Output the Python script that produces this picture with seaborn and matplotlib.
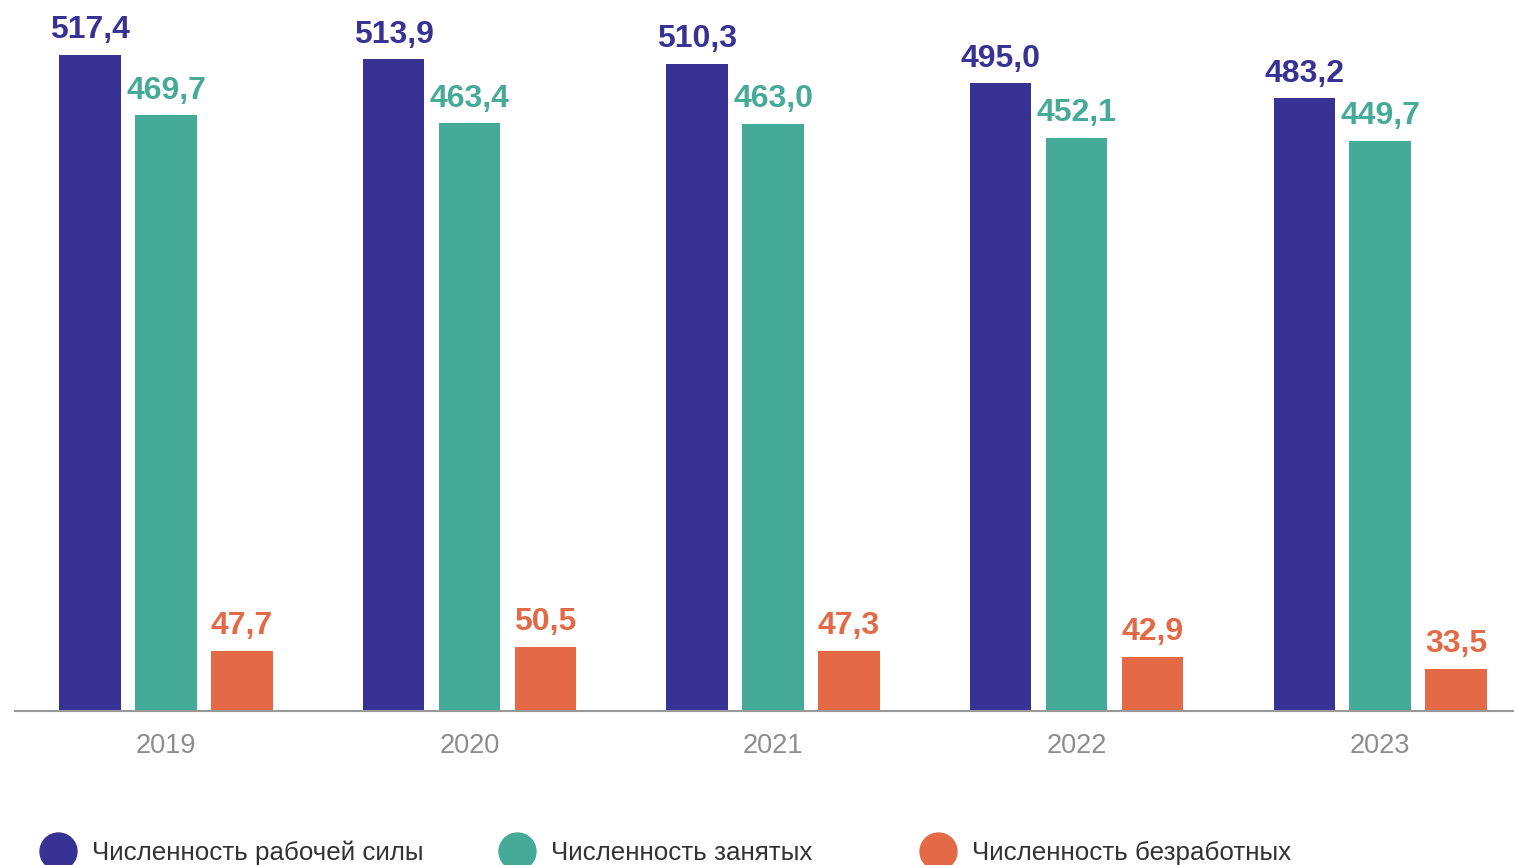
import pandas as pd
import matplotlib.pyplot as plt
import seaborn as sns
from matplotlib.lines import Line2D

# values (thousand people)
years = ["2019", "2020", "2021", "2022", "2023"]
labour_force = [517.4, 513.9, 510.3, 495.0, 483.2]
employed = [469.7, 463.4, 463.0, 452.1, 449.7]
unemployed = [47.7, 50.5, 47.3, 42.9, 33.5]
series_names = ["Численность рабочей силы", "Численность занятых", "Численность безработных"]
colors = ["#373294", "#46AA98", "#E36947"]

df = pd.DataFrame({
    "year": years * 3,
    "value": labour_force + employed + unemployed,
    "series": [s for s in series_names for _ in years],
})

sns.set_style("white")
plt.rcParams["font.family"] = ["Liberation Sans", "DejaVu Sans"]

fig = plt.figure(figsize=(15.14, 8.65), dpi=100)
ax = fig.add_axes([15 / 1514, 1 - 711 / 865, 1 - 15 / 1514, 711 / 865])

sns.barplot(data=df, x="year", y="value", hue="series", hue_order=series_names,
            palette=colors, saturation=1, width=0.75, gap=0.19, linewidth=0,
            legend=False, ax=ax)

for cont, col in zip(ax.containers, colors):
    ax.bar_label(cont, labels=[f"{v:.1f}".replace(".", ",") for v in cont.datavalues],
                 padding=7, color=col, fontsize=23, fontweight="bold")

ax.set_xlim(-0.4975, 4.441)
ax.set_ylim(0, 560.7)
ax.set_xlabel("")
ax.set_ylabel("")
ax.set_yticks([])
for side in ["top", "left", "right"]:
    ax.spines[side].set_visible(False)
ax.spines["bottom"].set_color("#999999")
ax.spines["bottom"].set_linewidth(1.5)
ax.tick_params(axis="x", length=0, pad=15.5, labelsize=19.5, labelcolor="#8c8c8c")

# legend entries placed individually
legend_x = [39, 498, 919]
for name, col, lx in zip(series_names, colors, legend_x):
    h = Line2D([], [], marker="o", linestyle="", markersize=26.6, color=col)
    fig.legend(handles=[h], labels=[name], loc="center left",
               bbox_to_anchor=(lx / 1514, 1 - 853 / 865), frameon=False,
               borderpad=0, borderaxespad=0, handlelength=1.48, handletextpad=0.56,
               fontsize=18.7, labelcolor="#333333")

fig.savefig("out.png", dpi=100)
